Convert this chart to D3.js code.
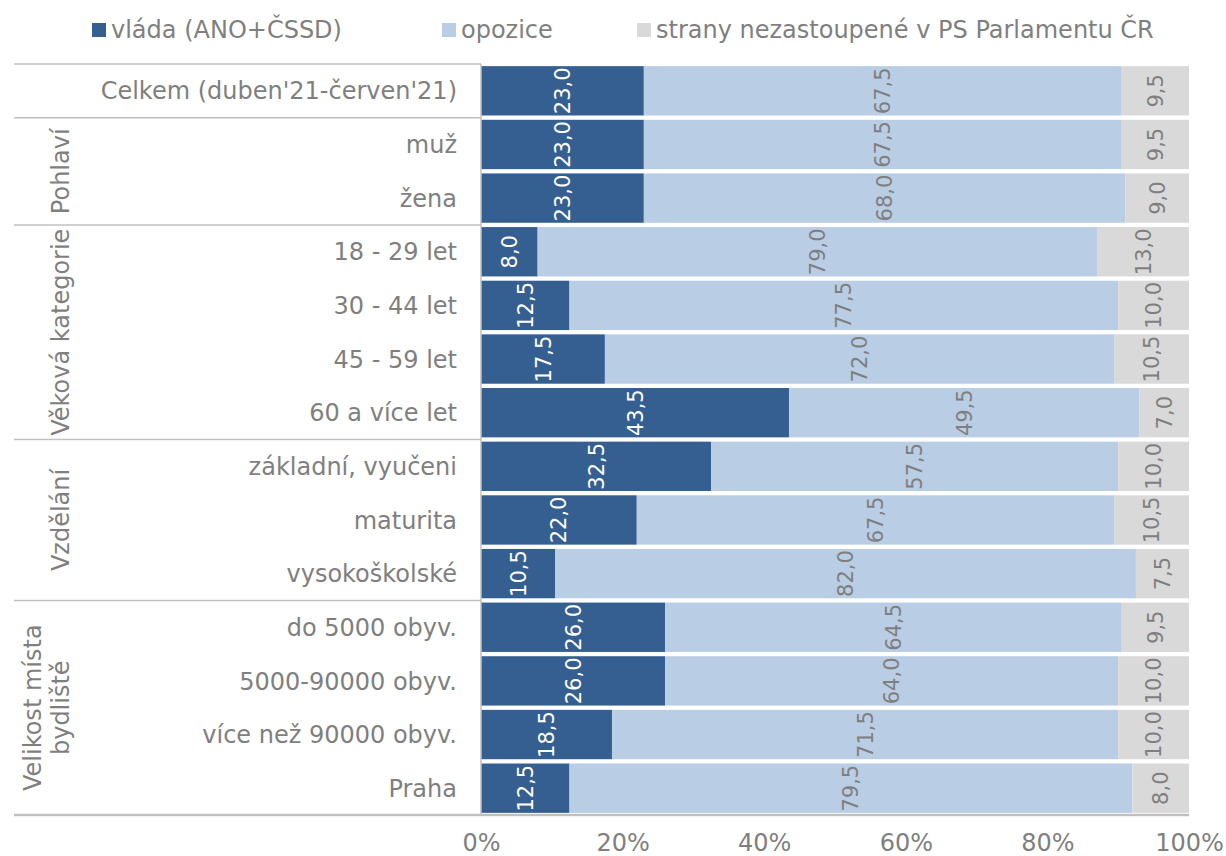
<!DOCTYPE html>
<html>
<head>
<meta charset="utf-8">
<script src="https://cdn.jsdelivr.net/npm/d3@7"></script>
<style>
	body { margin: 0; background: #fff; }
	svg text { font-family: "DejaVu Sans", Verdana, sans-serif; fill: #7f7f7f; }
</style>
</head>
<body>
<svg id="svg"></svg>
<script>
// categories (row label, group)
const rows = [
	'Celkem (duben\'21-červen\'21)',
	'muž', 'žena',
	'18 - 29 let', '30 - 44 let', '45 - 59 let', '60 a více let',
	'základní, vyučeni', 'maturita', 'vysokoškolské',
	'do 5000 obyv.', '5000-90000 obyv.', 'více než 90000 obyv.', 'Praha'
]
const groups = [
	{name: [''], from: 0, to: 0},
	{name: ['Pohlaví'], from: 1, to: 2},
	{name: ['Věková kategorie'], from: 3, to: 6},
	{name: ['Vzdělání'], from: 7, to: 9},
	{name: ['Velikost místa', 'bydliště'], from: 10, to: 13}
]

// series
const seriesNames = ['vláda (ANO+ČSSD)', 'opozice', 'strany nezastoupené v PS Parlamentu ČR']
const vlada = [23.0, 23.0, 23.0, 8.0, 12.5, 17.5, 43.5, 32.5, 22.0, 10.5, 26.0, 26.0, 18.5, 12.5]
const opozice = [67.5, 67.5, 68.0, 79.0, 77.5, 72.0, 49.5, 57.5, 67.5, 82.0, 64.5, 64.0, 71.5, 79.5]
const nezastoupene = [9.5, 9.5, 9.0, 13.0, 10.0, 10.5, 7.0, 10.0, 10.5, 7.5, 9.5, 10.0, 10.0, 8.0]
const xTicks = [0, 20, 40, 60, 80, 100]

const colors = ['#365f91', '#b9cde5', '#d9d9d9']
const labelColors = ['#ffffff', '#7f7f7f', '#7f7f7f']

const W = 1226, H = 856
const plot = {left: 481, right: 1189, top: 64, bottom: 815}
const lineColor = '#c0c0c0'

const svg = d3.select('#svg')
	.attr('width', W)
	.attr('height', H)

const x = d3.scaleLinear().domain([0, 100]).range([plot.left, plot.right])
const y = d3.scaleBand()
	.domain(d3.range(rows.length))
	.range([plot.top, plot.bottom])
	.paddingInner(0.08)
	.paddingOuter(0.04)

// build stacked table
const table = rows.map((r, i) => ({i: i, v0: vlada[i], v1: opozice[i], v2: nezastoupene[i]}))
const stack = d3.stack().keys(['v0', 'v1', 'v2'])(table)

// bars
const layers = svg.append('g').selectAll('g')
	.data(stack).enter()
	.append('g')
	.attr('fill', (d, k) => colors[k])

layers.selectAll('rect')
	.data(d => d).enter()
	.append('rect')
	.attr('x', d => x(d[0]))
	.attr('y', d => y(d.data.i))
	.attr('width', d => x(d[1]) - x(d[0]))
	.attr('height', y.bandwidth())

// value labels, rotated
stack.forEach((layer, k) => {
	svg.append('g').selectAll('text')
		.data(layer).enter()
		.append('text')
		.attr('transform', d => `translate(${(x(d[0]) + x(d[1])) / 2},${y(d.data.i) + y.bandwidth() / 2}) rotate(-90)`)
		.attr('text-anchor', 'middle')
		.attr('dy', '0.36em')
		.style('font-size', '21px')
		.style('fill', labelColors[k])
		.text(d => (d[1] - d[0]).toFixed(1).replace('.', ','))
})

// x axis
const xAxis = svg.append('g')
	.attr('transform', `translate(0,${plot.bottom})`)
	.call(d3.axisBottom(x).tickValues(xTicks).tickSize(0).tickPadding(19).tickFormat(d => d + '%'))
xAxis.select('.domain').remove()
xAxis.selectAll('text')
	.style('font-size', '24px')
	.style('font-family', '"DejaVu Sans", Verdana, sans-serif')
	.attr('fill', '#7f7f7f')

// row labels
svg.append('g').selectAll('text')
	.data(rows).enter()
	.append('text')
	.attr('x', 457)
	.attr('y', (d, i) => y(i) + y.bandwidth() / 2)
	.attr('dy', '0.36em')
	.attr('text-anchor', 'end')
	.style('font-size', '24px')
	.text(d => d)

// group separators
const sepY = [plot.top].concat(groups.map(g => y(g.to) + y.step() - y.step() * y.paddingInner() / 2))
sepY[sepY.length - 1] = plot.bottom
svg.append('g').selectAll('line')
	.data(sepY).enter()
	.append('line')
	.attr('x1', 14)
	.attr('x2', (d, i) => i === sepY.length - 1 ? plot.right : plot.left)
	.attr('y1', d => d)
	.attr('y2', d => d)
	.attr('stroke', lineColor)
	.attr('stroke-width', (d, i) => i === sepY.length - 1 ? 2.5 : 1.5)

svg.append('line')
	.attr('x1', plot.left).attr('x2', plot.left)
	.attr('y1', plot.top).attr('y2', plot.bottom)
	.attr('stroke', lineColor)
	.attr('stroke-width', 1.5)

// group labels, rotated
groups.filter(g => g.name[0]).forEach(g => {
	const cy = (y(g.from) + y(g.to) + y.bandwidth()) / 2
	const n = g.name.length
	g.name.forEach((t, j) => {
		svg.append('text')
			.attr('transform', `translate(${60 - (n - 1 - j) * 28},${cy}) rotate(-90)`)
			.attr('text-anchor', 'middle')
			.attr('dy', '0.36em')
			.style('font-size', '24px')
			.text(t)
	})
})

// legend
const legendX = [92, 442, 637]
const legend = svg.append('g').selectAll('g')
	.data(seriesNames).enter()
	.append('g')
	.attr('transform', (d, i) => `translate(${legendX[i]},0)`)
legend.append('rect')
	.attr('x', 0)
	.attr('y', 23)
	.attr('width', 14)
	.attr('height', 14)
	.attr('fill', (d, i) => colors[i])
legend.append('text')
	.attr('x', 19)
	.attr('y', 38)
	.style('font-size', '24px')
	.text(d => d)
</script>
</body>
</html>
